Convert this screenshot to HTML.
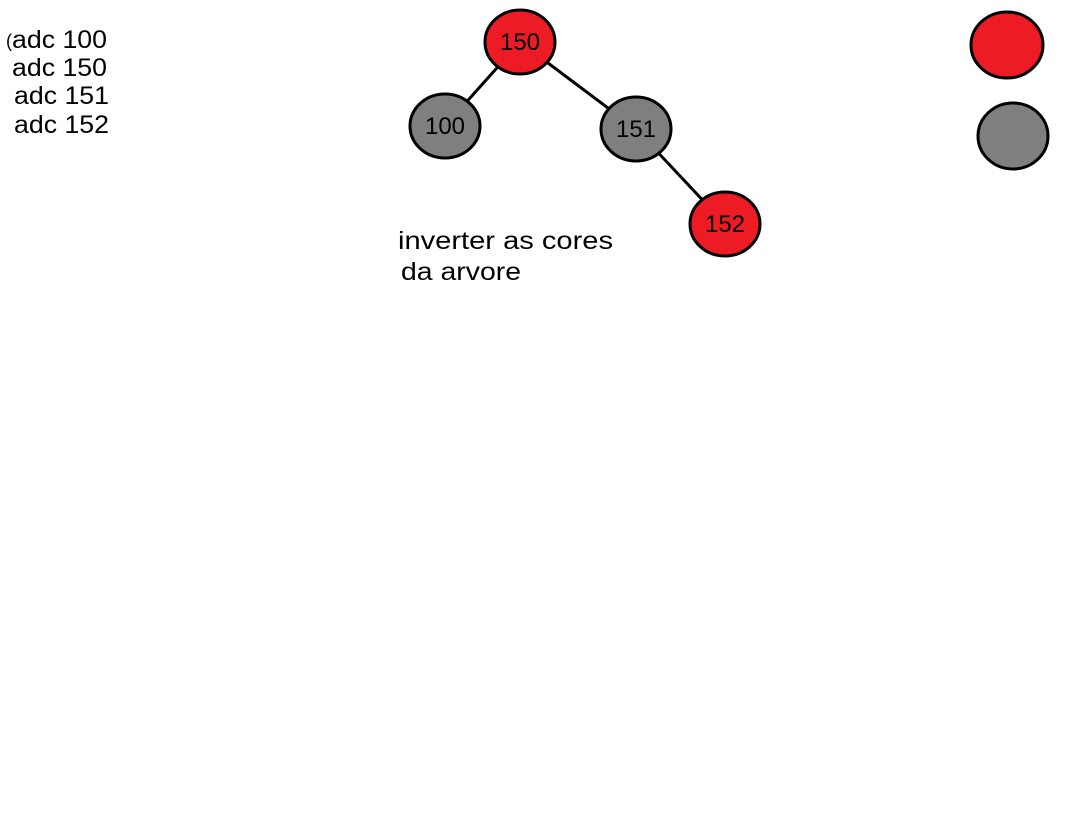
<!DOCTYPE html>
<html><head><meta charset="utf-8"><style>
body{margin:0;background:#fff;width:1075px;height:822px;overflow:hidden}
svg{display:block}
text{font-family:"Liberation Sans",sans-serif}
</style></head><body>
<svg width="1075" height="822">
<g id="notes"></g>
<g id="edges"></g>
<g id="nodes"></g>
<g>
<ellipse cx="1007" cy="45" rx="36" ry="33" fill="#ed1c24" stroke="#000" stroke-width="3"/>
<ellipse cx="1013" cy="136" rx="35" ry="33" fill="#7f7f7f" stroke="#000" stroke-width="3"/>
</g>
<text x="398" y="249" font-size="25" textLength="215" lengthAdjust="spacingAndGlyphs">inverter as cores</text>
<text x="401" y="280" font-size="25" textLength="120" lengthAdjust="spacingAndGlyphs">da arvore</text>
<text x="6" y="47" font-size="18">(</text>
</svg>
<script>
const nodeLabels=["150","100","151","152"];
const nodeColors=["red","black","black","red"];
const nodeX=[520,445,636,725];
const nodeY=[42,126,129,224];
const edgeFrom=[0,0,2];
const edgeTo=[1,2,3];
const notes=["adc 100","adc 150","adc 151","adc 152"];
const noteX=[12,12,14,14];
const noteY=[48,76,104,133];
const ns="http://www.w3.org/2000/svg";
const fill={red:"#ed1c24",black:"#7f7f7f"};
const ng=document.getElementById('notes');
notes.forEach((t,i)=>{const e=document.createElementNS(ns,'text');
e.setAttribute('x',noteX[i]);e.setAttribute('y',noteY[i]);e.setAttribute('font-size','25');
e.setAttribute('textLength','95');e.setAttribute('lengthAdjust','spacingAndGlyphs');e.textContent=t;


ng.appendChild(e);});
const eg=document.getElementById('edges');
edgeFrom.forEach((f,i)=>{const t=edgeTo[i];const l=document.createElementNS(ns,'line');
l.setAttribute('x1',nodeX[f]);l.setAttribute('y1',nodeY[f]);l.setAttribute('x2',nodeX[t]);l.setAttribute('y2',nodeY[t]);
l.setAttribute('stroke','#000');l.setAttribute('stroke-width','3');


eg.appendChild(l);});
const gg=document.getElementById('nodes');
nodeLabels.forEach((t,i)=>{const g=document.createElementNS(ns,'g');


const c=document.createElementNS(ns,'ellipse');c.setAttribute('cx',nodeX[i]);c.setAttribute('cy',nodeY[i]);
c.setAttribute('rx',35);c.setAttribute('ry',32);c.setAttribute('fill',fill[nodeColors[i]]);c.setAttribute('stroke','#000');c.setAttribute('stroke-width','3');
const tx=document.createElementNS(ns,'text');tx.setAttribute('x',nodeX[i]);tx.setAttribute('y',nodeY[i]+8);
tx.setAttribute('text-anchor','middle');tx.setAttribute('font-size','24');tx.textContent=t;
g.appendChild(c);g.appendChild(tx);gg.appendChild(g);});
</script>
</body></html>
